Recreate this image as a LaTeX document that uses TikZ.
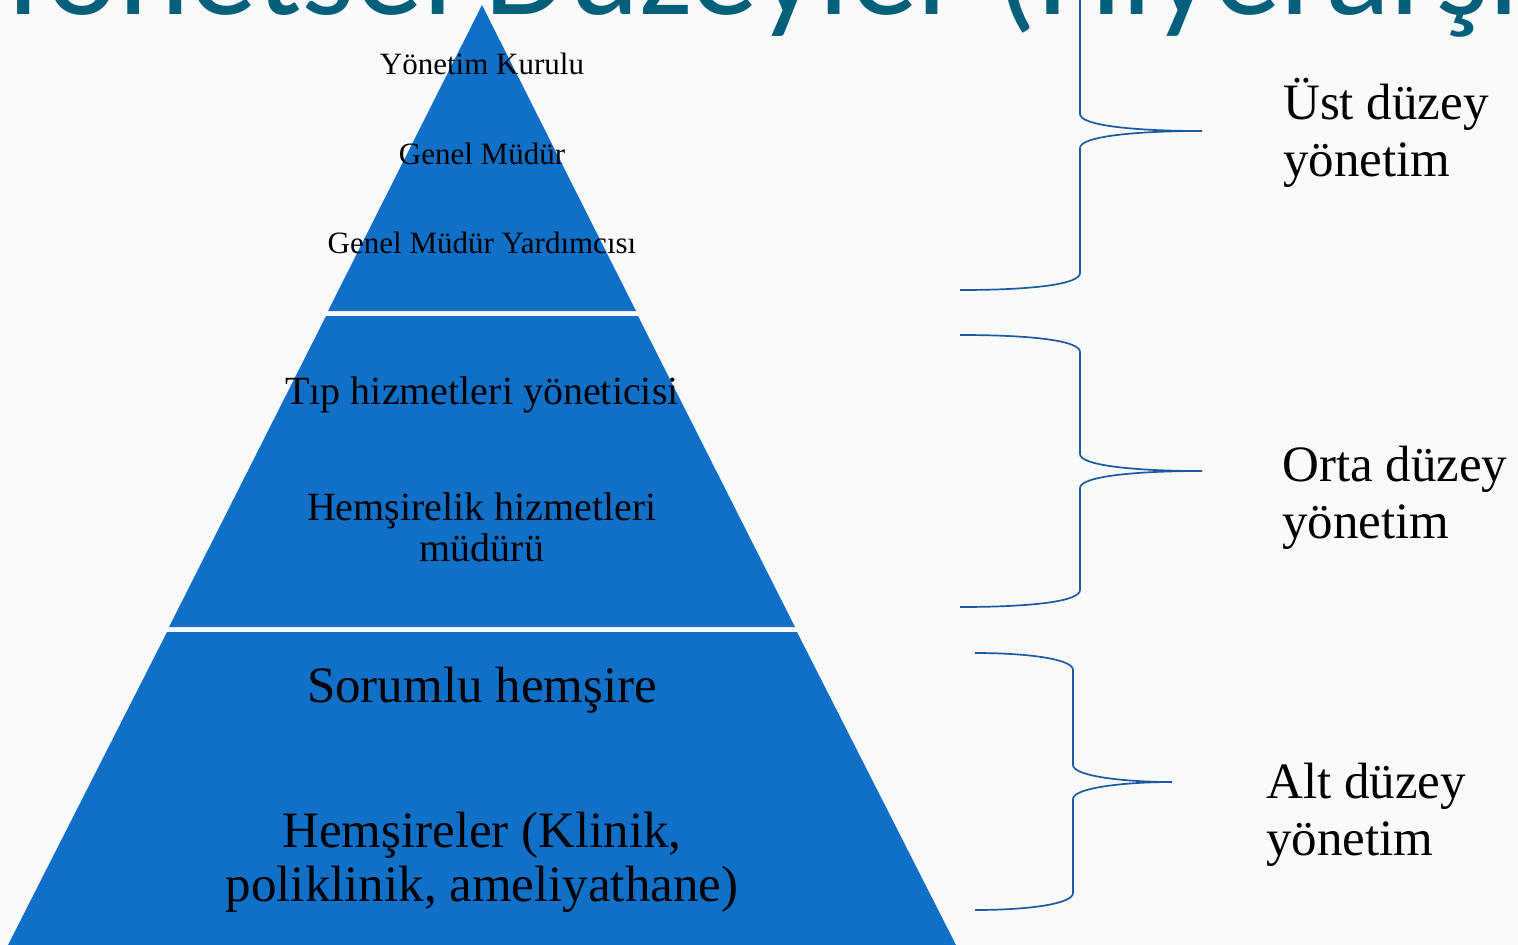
\documentclass[tikz,border=0pt]{standalone}
\usepackage{fontspec}
\setmainfont{Liberation Serif}
\newfontfamily\titlefont{Carlito}
\usetikzlibrary{calc}
\definecolor{pyrblue}{RGB}{16,111,198}
\definecolor{titleteal}{RGB}{4,96,122}
\definecolor{bracebl}{RGB}{26,90,164}
\definecolor{slidebg}{RGB}{250,250,250}

\newcommand{\levelbrace}[6]{%
  \draw[bracel] (#1,#4) .. controls (#2-45,#4) and (#2,#4+6) .. (#2,#4+17)
    -- (#2,#5-17) .. controls (#2,#5-6) and (#2+50,#5) .. (#3,#5)
    .. controls (#2+50,#5) and (#2,#5+6) .. (#2,#5+17)
    -- (#2,#6-17) .. controls (#2,#6-6) and (#2-45,#6) .. (#1,#6);}

\begin{document}
\begin{tikzpicture}[
      x=1pt, y=-1pt,
      titletext/.style={titleteal, font=\titlefont\fontsize{136}{140}\selectfont, inner sep=0pt},
      layer/.style={fill=pyrblue},
      small/.style={align=center, inner sep=0pt, font=\fontsize{31}{34}\selectfont},
      medium/.style={align=center, inner sep=0pt, font=\fontsize{40}{41}\selectfont},
      large/.style={align=center, inner sep=0pt, font=\fontsize{51}{54}\selectfont},
      side/.style={align=left, anchor=west, inner sep=0pt, font=\fontsize{51}{57}\selectfont},
      bracel/.style={draw=bracebl, line width=1.7pt}
    ]
      \useasboundingbox[fill=slidebg] (0,0) rectangle (1518,945);
      \clip (0,0) rectangle (1518,945);

      \node[titletext, anchor=base west] (title) at (-10,14) {Yönetsel Düzeyler (Hiyerarşi)};

      \fill[layer] (482,5) -- (636,311) -- (328,311) -- cycle;
      \fill[layer] (326,316) -- (638,316) -- (795,627) -- (169,627) -- cycle;
      \fill[layer] (167,632) -- (797,632) -- (956,945) -- (8,945) -- cycle;

      \node[small] (kurul) at (482,64) {Yönetim Kurulu};
      \node[small] (gm) at (482,154) {Genel Müdür};
      \node[small] (gmy) at (482,243) {Genel Müdür Yardımcısı};
      \node[medium] (tip) at (482,395) {Tıp hizmetleri yöneticisi};
      \node[medium] (hhm) at (482,527) {Hemşirelik hizmetleri\\müdürü};
      \node[large] (sorumlu) at (482,690) {Sorumlu hemşire};
      \node[large] (hemsire) at (482,862) {Hemşireler (Klinik,\\poliklinik, ameliyathane)};

      \levelbrace{960}{1080}{1202}{-28}{131}{290}
      \levelbrace{960}{1080}{1202}{335}{471}{607}
      \levelbrace{975}{1073}{1172}{653}{782}{910}

      \node[side] (ust) at (1283,133) {Üst düzey\\yönetim};
      \node[side] (orta) at (1282,498) {Orta düzey\\yönetim};
      \node[side] (alt) at (1266,815) {Alt düzey\\yönetim};
    \end{tikzpicture}
\end{document}
